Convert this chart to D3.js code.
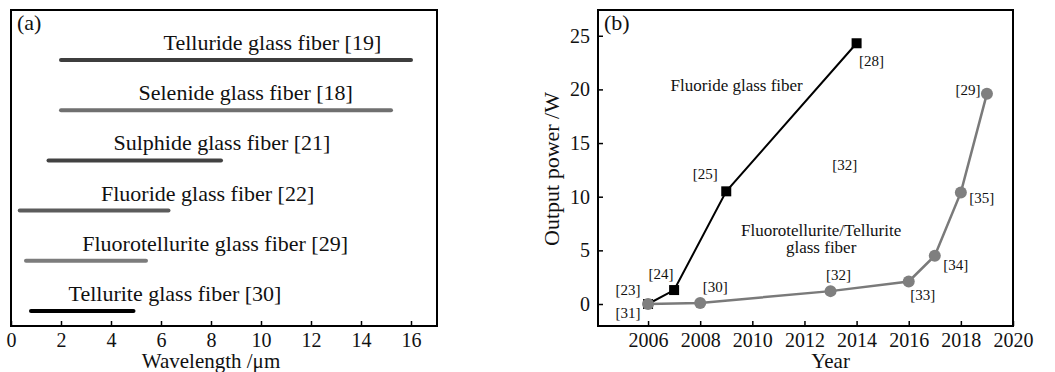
<!DOCTYPE html>
<html>
<head>
<meta charset="utf-8">
<script src="https://cdn.jsdelivr.net/npm/d3@7"></script>
<style>
  html, body { margin: 0; padding: 0; background: #fff; }
  svg { display: block; }
  svg text { font-family: "Liberation Serif", "DejaVu Serif", serif !important; fill: #111; }
</style>
</head>
<body>
<svg id="chart" width="1055" height="372"></svg>
<script>
// ---- Panel (a): transmission windows of glass fibers ----
const fiberNames = [
  "Telluride glass fiber [19]",
  "Selenide glass fiber [18]",
  "Sulphide glass fiber [21]",
  "Fluoride glass fiber [22]",
  "Fluorotellurite glass fiber [29]",
  "Tellurite glass fiber [30]"
];
const rangeStart = [2.0, 2.0, 1.5, 0.35, 0.6, 0.8];   // µm
const rangeEnd   = [16.0, 15.2, 8.4, 6.3, 5.4, 4.9];  // µm
const labelStart = [6.1, 5.1, 4.1, 3.6, 2.85, 2.3];   // µm, where each caption begins
const fiberShade = ["#3e3e3e", "#707070", "#424242", "#5c5c5c", "#7c7c7c", "#000000"];
const wavelengthTicks = [0, 2, 4, 6, 8, 10, 12, 14, 16];

// ---- Panel (b): output power over the years ----
const fluorideYears = [2006, 2007, 2009, 2014];
const fluoridePower = [0, 1.3, 10.5, 24.3];
const fluorideRefs  = ["[23]", "[24]", "[25]", "[28]"];
const telluriteYears = [2006, 2008, 2013, 2016, 2017, 2018, 2019];
const telluritePower = [0, 0.1, 1.2, 2.1, 4.5, 10.4, 19.6];
const telluriteRefs  = ["[31]", "[30]", "[32]", "[33]", "[34]", "[35]", "[29]"];
const yearTicks  = [2006, 2008, 2010, 2012, 2014, 2016, 2018, 2020];
const powerTicks = [0, 5, 10, 15, 20, 25];

const svg = d3.select("#chart");
const tickLen = 5;
const serif = "Liberation Serif";

// ================= Panel (a) =================
const A = { left: 11, top: 10, right: 437, bottom: 326 };
const xA = d3.scaleLinear().domain([0, 17.04]).range([A.left, A.right]);
const yA = d3.scalePoint().domain(fiberNames).range([A.top + 50, A.bottom - 15]);

const gA = svg.append("g");
const fibers = fiberNames.map((n, i) => ({ name: n, s: rangeStart[i], e: rangeEnd[i], lab: labelStart[i], c: fiberShade[i] }));

gA.selectAll("line.win").data(fibers).join("line")
  .attr("class", "win")
  .attr("x1", d => xA(d.s)).attr("x2", d => xA(d.e))
  .attr("y1", d => yA(d.name)).attr("y2", d => yA(d.name))
  .attr("stroke", d => d.c).attr("stroke-width", 4).attr("stroke-linecap", "round");

gA.selectAll("text.cap").data(fibers).join("text")
  .attr("class", "cap")
  .attr("x", d => xA(d.lab)).attr("y", d => yA(d.name) - 10)
  .attr("font-size", 22)
  .text(d => d.name);

// bottom axis with inward ticks
const axA = gA.append("g").attr("transform", `translate(0,${A.bottom})`)
  .call(d3.axisBottom(xA).tickValues(wavelengthTicks).tickSizeInner(-tickLen).tickSizeOuter(0).tickPadding(7));
axA.attr("font-family", serif);
axA.select(".domain").remove();
axA.selectAll("line").attr("stroke", "#000").attr("stroke-width", 1.5);
axA.selectAll("text").attr("font-size", 20).attr("fill", "#111");

gA.append("rect")
  .attr("x", A.left).attr("y", A.top).attr("width", A.right - A.left).attr("height", A.bottom - A.top)
  .attr("fill", "none").attr("stroke", "#000").attr("stroke-width", 2);

gA.append("text").attr("x", A.left + 6).attr("y", A.top + 20).attr("font-size", 22).text("(a)");
gA.append("text").attr("x", xA(8)).attr("y", 368).attr("text-anchor", "middle").attr("font-size", 21)
  .text("Wavelength /μm");

// ================= Panel (b) =================
const B = { left: 598, top: 10, right: 1013, bottom: 326 };
const xB = d3.scaleLinear().domain([2004.08, 2020]).range([B.left, B.right]);
const yB = d3.scaleLinear().domain([-2.05, 27.4]).range([B.bottom, B.top]);

const gB = svg.append("g");

const axBx = gB.append("g").attr("transform", `translate(0,${B.bottom})`)
  .call(d3.axisBottom(xB).tickValues(yearTicks).tickFormat(d3.format("d")).tickSizeInner(-tickLen).tickSizeOuter(0).tickPadding(7));
axBx.attr("font-family", serif);
axBx.select(".domain").remove();
axBx.selectAll("line").attr("stroke", "#000").attr("stroke-width", 1.5);
axBx.selectAll("text").attr("font-size", 20).attr("fill", "#111");

const axBy = gB.append("g").attr("transform", `translate(${B.left},0)`)
  .call(d3.axisLeft(yB).tickValues(powerTicks).tickSizeInner(-tickLen).tickSizeOuter(0).tickPadding(8));
axBy.attr("font-family", serif);
axBy.select(".domain").remove();
axBy.selectAll("line").attr("stroke", "#000").attr("stroke-width", 1.5);
axBy.selectAll("text").attr("font-size", 20).attr("fill", "#111");

const line = d3.line().x(d => xB(d.y)).y(d => yB(d.p));
const fluoride  = fluorideYears.map((y, i) => ({ y, p: fluoridePower[i], r: fluorideRefs[i] }));
const tellurite = telluriteYears.map((y, i) => ({ y, p: telluritePower[i], r: telluriteRefs[i] }));

// fluoride fiber series: black squares
gB.append("path").datum(fluoride).attr("d", line)
  .attr("fill", "none").attr("stroke", "#000").attr("stroke-width", 2);
const sq = 10;
gB.selectAll("rect.sq").data(fluoride).join("rect")
  .attr("class", "sq")
  .attr("x", d => xB(d.y) - sq / 2).attr("y", d => yB(d.p) - sq / 2)
  .attr("width", sq).attr("height", sq).attr("fill", "#000");

// fluorotellurite / tellurite fiber series: grey circles
gB.append("path").datum(tellurite).attr("d", line)
  .attr("fill", "none").attr("stroke", "#7a7a7a").attr("stroke-width", 2.5);
gB.selectAll("circle.pt").data(tellurite).join("circle")
  .attr("class", "pt")
  .attr("cx", d => xB(d.y)).attr("cy", d => yB(d.p)).attr("r", 6)
  .attr("fill", "#7f7f7f");

// reference tags next to each point (offsets in pixels)
const fluorideTagOffset  = [[-20, -14], [-13, -16], [-21, -17], [15, 18]];
const telluriteTagOffset = [[-20, 9], [15, -16], [8, -16], [14, 14], [21, 9], [21, 6], [-19, -4]];
const tagFont = 15;
gB.selectAll("text.tf").data(fluoride).join("text")
  .attr("class", "tf")
  .attr("x", (d, i) => xB(d.y) + fluorideTagOffset[i][0])
  .attr("y", (d, i) => yB(d.p) + fluorideTagOffset[i][1])
  .attr("text-anchor", "middle").attr("dominant-baseline", "central")
  .attr("font-size", tagFont).text(d => d.r);
gB.selectAll("text.tt").data(tellurite).join("text")
  .attr("class", "tt")
  .attr("x", (d, i) => xB(d.y) + telluriteTagOffset[i][0])
  .attr("y", (d, i) => yB(d.p) + telluriteTagOffset[i][1])
  .attr("text-anchor", "middle").attr("dominant-baseline", "central")
  .attr("font-size", tagFont).text(d => d.r);

// free-standing annotations
gB.append("text").attr("x", xB(2009.4)).attr("y", yB(20.4)).attr("text-anchor", "middle")
  .attr("dominant-baseline", "central").attr("font-size", 17).text("Fluoride glass fiber");
gB.append("text").attr("x", xB(2013.55)).attr("y", yB(13)).attr("text-anchor", "middle")
  .attr("dominant-baseline", "central").attr("font-size", tagFont).text("[32]");
gB.append("text").attr("x", xB(2012.64)).attr("y", yB(6.85)).attr("text-anchor", "middle")
  .attr("dominant-baseline", "central").attr("font-size", 17).text("Fluorotellurite/Tellurite");
gB.append("text").attr("x", xB(2012.64)).attr("y", yB(5.25)).attr("text-anchor", "middle")
  .attr("dominant-baseline", "central").attr("font-size", 17).text("glass fiber");

gB.append("rect")
  .attr("x", B.left).attr("y", B.top).attr("width", B.right - B.left).attr("height", B.bottom - B.top)
  .attr("fill", "none").attr("stroke", "#000").attr("stroke-width", 2);

gB.append("text").attr("x", B.left + 6).attr("y", B.top + 20).attr("font-size", 22).text("(b)");
gB.append("text").attr("x", xB(2013)).attr("y", 368).attr("text-anchor", "middle").attr("font-size", 21).text("Year");
gB.append("text")
  .attr("transform", `translate(559,${(B.top + B.bottom) / 2 + 1}) rotate(-90)`)
  .attr("text-anchor", "middle").attr("font-size", 22).text("Output power /W");
</script>
</body>
</html>
